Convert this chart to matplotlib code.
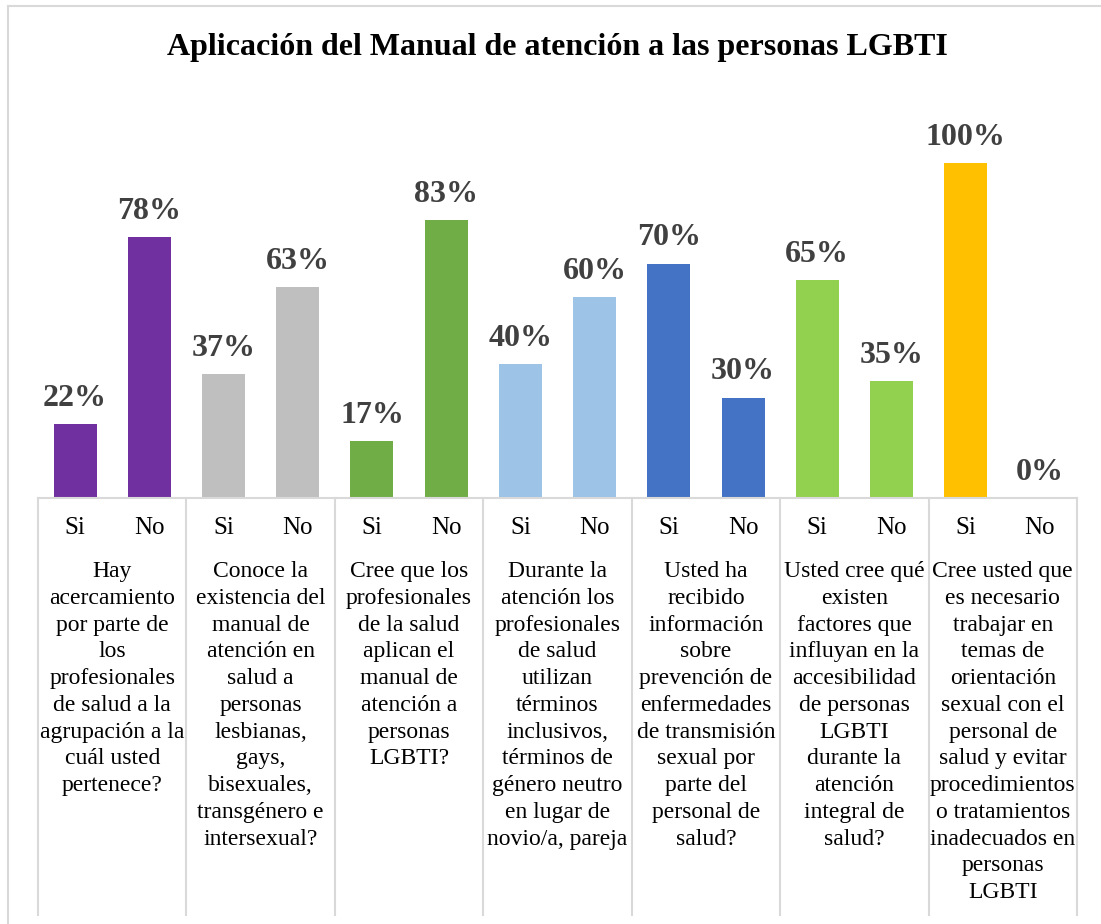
import matplotlib.pyplot as plt
from matplotlib.lines import Line2D

# datos del grafico
respuestas = ["Si", "No"]
valores = [22, 78, 37, 63, 17, 83, 40, 60, 70, 30, 65, 35, 100, 0]
colores_grupo = ["#7030A0", "#BFBFBF", "#70AD47", "#9DC3E6", "#4472C4", "#92D050", "#FFC000"]
preguntas = [
    "Hay\nacercamiento\npor parte de\nlos\nprofesionales\nde salud a la\nagrupación a la\ncuál usted\npertenece?",
    "Conoce la\nexistencia del\nmanual de\natención en\nsalud a\npersonas\nlesbianas,\ngays,\nbisexuales,\ntransgénero e\nintersexual?",
    "Cree que los\nprofesionales\nde la salud\naplican el\nmanual de\natención a\npersonas\nLGBTI?",
    "Durante la\natención los\nprofesionales\nde salud\nutilizan\ntérminos\ninclusivos,\ntérminos de\ngénero neutro\nen lugar de\nnovio/a, pareja",
    "Usted ha\nrecibido\ninformación\nsobre\nprevención de\nenfermedades\nde transmisión\nsexual por\nparte del\npersonal de\nsalud?",
    "Usted cree qué\nexisten\nfactores que\ninfluyan en la\naccesibilidad\nde personas\nLGBTI\ndurante la\natención\nintegral de\nsalud?",
    "Cree usted que\nes necesario\ntrabajar en\ntemas de\norientación\nsexual con el\npersonal de\nsalud y evitar\nprocedimientos\no tratamientos\ninadecuados en\npersonas\nLGBTI",
]

plt.rcParams['font.family'] = ['Liberation Serif', 'DejaVu Serif']

W, H = 1101, 924
fig = plt.figure(figsize=(W / 100, H / 100), dpi=100)

# ejes: izquierda 38px, derecha 1077px, base 498px, arriba 100px
ax = fig.add_axes([38 / W, (H - 498) / H, (1077 - 38) / W, (498 - 100) / H])
ymax = (498 - 100) / 335 * 100
ax.set_ylim(0, ymax)
ax.set_xlim(-0.5, len(valores) - 0.5)

xs = list(range(len(valores)))
cols = [colores_grupo[i // 2] for i in xs]
ax.bar(xs, valores, width=0.58, color=cols)

for x, v in zip(xs, valores):
    ax.annotate(f"{v}%", (x, v), xytext=(0, 8), textcoords="offset points",
                ha="center", va="bottom", fontsize=23, fontweight="bold", color="#404040")

for s in ["top", "left", "right"]:
    ax.spines[s].set_visible(False)
ax.spines["bottom"].set_color("#D9D9D9")
ax.spines["bottom"].set_linewidth(1.5)
ax.set_xticks([])
ax.set_yticks([])

trans = ax.get_xaxis_transform()
px = 1 / (498 - 100)  # un pixel en coordenadas del eje
for x in xs:
    ax.text(x, -(528 - 498) * px, respuestas[x % 2], transform=trans, ha="center", va="center",
            fontsize=18, color="black", clip_on=False)

for g, texto in enumerate(preguntas):
    ax.text(2 * g + 0.5, -(561 - 498) * px, texto, transform=trans, ha="center", va="top",
            fontsize=17, color="black", linespacing=1.36, clip_on=False)

for g in range(len(preguntas) + 1):
    ax.add_line(Line2D([2 * g - 0.5, 2 * g - 0.5], [0, -(915 - 498) * px], transform=trans,
                       color="#D9D9D9", lw=1.5, clip_on=False))

fig.text(557 / W, 1 - 48 / H, "Aplicación del Manual de atención a las personas LGBTI",
         ha="center", va="center", fontsize=23, fontweight="bold", color="black")

# borde exterior
fig.add_artist(Line2D([8 / W, 1], [1 - 6 / H, 1 - 6 / H], transform=fig.transFigure, color="#D9D9D9", lw=1.5))
fig.add_artist(Line2D([8 / W, 8 / W], [0, 1 - 6 / H], transform=fig.transFigure, color="#D9D9D9", lw=1.5))

fig.savefig("out.png", dpi=100)
